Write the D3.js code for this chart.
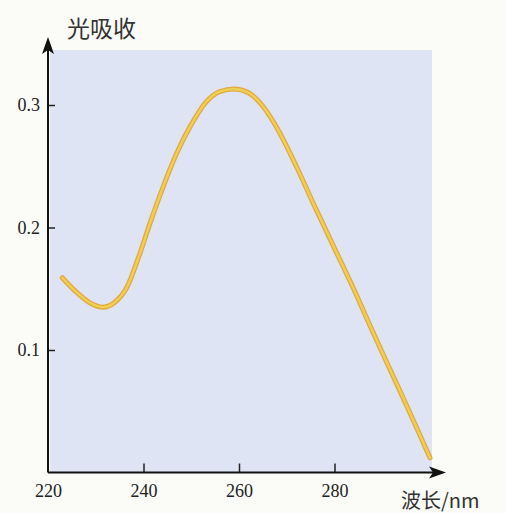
<!DOCTYPE html>
<html>
<head>
<meta charset="utf-8">
<script src="https://cdn.jsdelivr.net/npm/d3@7"></script>
<style>
  body { margin: 0; background: #fbfbf8; }
  svg { display: block; }
</style>
</head>
<body>
<script>
// wavelength (nm) and light absorption
const wavelengths = [223, 226, 229, 231.5, 234, 236.5, 239, 241.5, 244, 247, 250, 253, 256, 259, 262, 265, 268, 272, 276, 280, 284, 288, 292, 296, 300];
const absorbance  = [0.159, 0.147, 0.138, 0.135, 0.139, 0.151, 0.176, 0.205, 0.232, 0.261, 0.284, 0.302, 0.311, 0.313, 0.310, 0.299, 0.281, 0.250, 0.216, 0.183, 0.150, 0.115, 0.081, 0.047, 0.012];
const xTicks = [220, 240, 260, 280];
const yTicks = [0.1, 0.2, 0.3];

const width = 506, height = 513;
const data = wavelengths.map((w, i) => ({ w: w, a: absorbance[i] }));

const svg = d3.select("body").append("svg")
  .attr("width", width)
  .attr("height", height);

const x = d3.scaleLinear().domain([220, 300]).range([48, 430]);
const y = d3.scaleLinear().domain([0, 0.3]).range([472.5, 105]);

// shaded plot area
svg.append("rect")
  .attr("x", 50).attr("y", 50)
  .attr("width", 382).attr("height", 422)
  .attr("fill", "#dfe4f5");

// curve
const line = d3.line()
  .x(d => x(d.w))
  .y(d => y(d.a))
  .curve(d3.curveMonotoneX);

svg.append("path")
  .datum(data)
  .attr("fill", "none")
  .attr("stroke", "#e3a83e")
  .attr("stroke-width", 5)
  .attr("stroke-linecap", "round")
  .attr("d", line);
svg.append("path")
  .datum(data)
  .attr("fill", "none")
  .attr("stroke", "#ecd055")
  .attr("stroke-width", 2.5)
  .attr("stroke-linecap", "round")
  .attr("d", line);

// x axis
const xAxis = d3.axisBottom(x)
  .tickValues(xTicks)
  .tickSize(0)
  .tickPadding(12)
  .tickFormat(d3.format("d"));
const gx = svg.append("g")
  .attr("transform", "translate(0," + y(0) + ")")
  .call(xAxis);
gx.select(".domain").remove();
gx.selectAll(".tick line").remove();
gx.selectAll(".tick").filter(d => d !== 220).append("line")
  .attr("y1", 0).attr("y2", -9)
  .attr("stroke", "#222").attr("stroke-width", 1.5);
gx.selectAll("text")
  .attr("fill", "#222")
  .style("font-family", "'Liberation Serif', serif")
  .style("font-size", "18px");

// y axis
const yAxis = d3.axisLeft(y)
  .tickValues(yTicks)
  .tickSize(0)
  .tickPadding(8)
  .tickFormat(d3.format(".1f"));
const gy = svg.append("g")
  .attr("transform", "translate(48,0)")
  .call(yAxis);
gy.select(".domain").remove();
gy.selectAll(".tick line").remove();
gy.selectAll(".tick").append("line")
  .attr("x1", 0).attr("x2", 7)
  .attr("stroke", "#222").attr("stroke-width", 1.5);
gy.selectAll("text")
  .attr("fill", "#222")
  .style("font-family", "'Liberation Serif', serif")
  .style("font-size", "18px");

// axis lines with arrows
svg.append("line")
  .attr("x1", 48).attr("y1", y(0))
  .attr("x2", 48).attr("y2", 48)
  .attr("stroke", "#111").attr("stroke-width", 2);
svg.append("path")
  .attr("d", "M48,37 L42,54 L48,50 L54,54 Z")
  .attr("fill", "#111");
svg.append("line")
  .attr("x1", 48).attr("y1", y(0))
  .attr("x2", 435).attr("y2", y(0))
  .attr("stroke", "#111").attr("stroke-width", 2);
svg.append("path")
  .attr("d", "M446," + y(0) + " L429," + (y(0) - 6) + " L433," + y(0) + " L429," + (y(0) + 6) + " Z")
  .attr("fill", "#111");

// axis titles
svg.append("text")
  .attr("x", 67).attr("y", 37)
  .attr("fill", "#333")
  .style("font-family", "'Noto Sans CJK SC', sans-serif")
  .style("font-size", "23px")
  .text("光吸收");
svg.append("text")
  .attr("x", 401).attr("y", 508)
  .attr("fill", "#333")
  .style("font-family", "'Noto Sans CJK SC', sans-serif")
  .style("font-size", "20px")
  .text("波长/nm");
</script>
</body>
</html>
